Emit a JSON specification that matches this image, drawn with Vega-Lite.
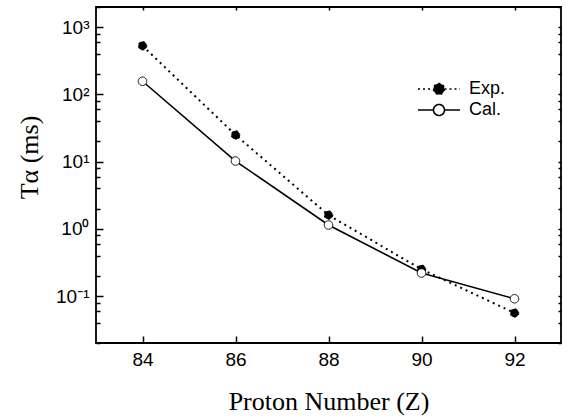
{
  "$schema": "https://vega.github.io/schema/vega-lite/v6.json",
  "width": 465,
  "height": 336,
  "autosize": {"type": "none"},
  "padding": {"left": 96, "top": 7, "right": 7, "bottom": 74},
  "background": "white",
  "config": {
    "view": {"stroke": "black", "strokeWidth": 1.8},
    "axis": {
      "domain": false,
      "ticks": true,
      "tickColor": "black",
      "tickWidth": 1.5,
      "grid": false,
      "labelFont": "Liberation Sans",
      "labelFontSize": 19,
      "labelColor": "black",
      "titleFont": "Liberation Serif",
      "titleFontSize": 26,
      "titleFontWeight": "normal",
      "titleColor": "black"
    }
  },
  "data": {
    "values": [
      {"series": "Exp.", "z": 84, "t": 530},
      {"series": "Exp.", "z": 86, "t": 25},
      {"series": "Exp.", "z": 88, "t": 1.6},
      {"series": "Exp.", "z": 90, "t": 0.25},
      {"series": "Exp.", "z": 92, "t": 0.056},
      {"series": "Cal.", "z": 84, "t": 157},
      {"series": "Cal.", "z": 86, "t": 10.2},
      {"series": "Cal.", "z": 88, "t": 1.14},
      {"series": "Cal.", "z": 90, "t": 0.22},
      {"series": "Cal.", "z": 92, "t": 0.091}
    ]
  },
  "resolve": {"axis": {"y": "independent", "x": "independent"}},
  "layer": [
    {
      "transform": [{"filter": "datum.series == 'Exp.'"}],
      "mark": {"type": "line", "color": "black", "strokeDash": [2, 4], "strokeWidth": 2},
      "encoding": {
        "x": {
          "field": "z",
          "type": "quantitative",
          "scale": {"domain": [83, 93], "nice": false, "zero": false},
          "axis": {
            "orient": "bottom",
            "values": [84, 86, 88, 90, 92],
            "offset": -7,
            "tickSize": 7,
            "ticks": true,
            "tickColor": "black",
            "tickWidth": 1.5,
            "labelPadding": 7,
            "labelFlush": false,
            "zindex": 3,
            "title": "Proton Number (Z)",
            "titleY": 73,
            "titleBaseline": "alphabetic"
          }
        },
        "y": {
          "field": "t",
          "type": "quantitative",
          "scale": {"type": "log", "domain": [0.02, 2000], "nice": false},
          "axis": {
            "orient": "left",
            "values": [0.1, 1, 10, 100, 1000],
            "offset": -7,
            "tickSize": 7,
            "ticks": true,
            "tickColor": "black",
            "tickWidth": 1.5,
            "zindex": 3,
            "labelExpr": "datum.value == 1000 ? '10³' : datum.value == 100 ? '10²' : datum.value == 10 ? '10¹' : datum.value == 1 ? '10⁰' : datum.value == 0.1 ? '10⁻¹' : ''",
            "labelPadding": 7,
            "labelOverlap": false,
            "labelFlush": false,
            "title": "Tα (ms)",
            "titleX": -66,
            "titleY": 150,
            "titleAngle": -90,
            "titleAlign": "center",
            "titleBaseline": "alphabetic"
          }
        }
      }
    },
    {
      "transform": [{"filter": "datum.series == 'Cal.'"}],
      "mark": {"type": "line", "color": "black", "strokeWidth": 1.6},
      "encoding": {
        "x": {"field": "z", "type": "quantitative", "axis": null},
        "y": {
          "field": "t",
          "type": "quantitative",
          "axis": {
            "orient": "left",
            "values": [0.02, 0.04, 0.06, 0.08, 0.2, 0.4, 0.6, 0.8, 2, 4, 6, 8, 20, 40, 60, 80, 200, 400, 600, 800, 2000],
            "offset": -4,
            "tickSize": 4,
            "ticks": true,
            "tickColor": "black",
            "tickWidth": 1.5,
            "zindex": 3,
            "labels": false,
            "title": null
          }
        }
      }
    },
    {
      "mark": {"type": "point", "shape": "circle", "size": 72, "stroke": "black", "strokeWidth": 1, "opacity": 1},
      "encoding": {
        "x": {
          "field": "z",
          "type": "quantitative",
          "axis": {"orient": "top", "values": [84, 86, 88, 90, 92], "offset": -3, "tickSize": 3, "ticks": true, "tickColor": "black", "tickWidth": 1.5, "zindex": 3, "labels": false, "title": null}
        },
        "y": {
          "field": "t",
          "type": "quantitative",
          "axis": {
            "orient": "right",
            "values": [0.02, 0.04, 0.06, 0.08, 0.1, 0.2, 0.4, 0.6, 0.8, 1, 2, 4, 6, 8, 10, 20, 40, 60, 80, 100, 200, 400, 600, 800, 1000, 2000],
            "offset": -3,
            "tickSize": 3,
            "ticks": true,
            "tickColor": "black",
            "tickWidth": 1.5,
            "zindex": 3,
            "labels": false,
            "title": null
          }
        },
        "fill": {
          "field": "series",
          "type": "nominal",
          "scale": {"domain": ["Exp.", "Cal."], "range": ["black", "white"]},
          "legend": {
            "orient": "none",
            "legendX": 332,
            "legendY": 71,
            "title": null,
            "symbolType": "M-2.1,0H-0.55M0.55,0H2.1M0.55,0A0.55,0.55,0,1,1,-0.55,0A0.55,0.55,0,1,1,0.55,0Z",
            "symbolSize": 400,
            "symbolStrokeColor": "black",
            "symbolStrokeWidth": 1.6,
            "labelFont": "Liberation Sans",
            "labelFontSize": 18,
            "labelColor": "black",
            "labelOffset": 19,
            "rowPadding": 1,
            "padding": 0
          }
        },
        "strokeDash": {
          "field": "series",
          "type": "nominal",
          "scale": {"domain": ["Exp.", "Cal."], "range": [[2, 3], [1, 0]]},
          "legend": {
            "orient": "none",
            "legendX": 332,
            "legendY": 71,
            "title": null,
            "symbolType": "M-2.1,0H-0.55M0.55,0H2.1M0.55,0A0.55,0.55,0,1,1,-0.55,0A0.55,0.55,0,1,1,0.55,0Z",
            "symbolSize": 400,
            "symbolStrokeColor": "black",
            "symbolStrokeWidth": 1.6,
            "labelFont": "Liberation Sans",
            "labelFontSize": 18,
            "labelColor": "black",
            "labelOffset": 19,
            "rowPadding": 1,
            "padding": 0
          }
        }
      }
    }
  ]
}
